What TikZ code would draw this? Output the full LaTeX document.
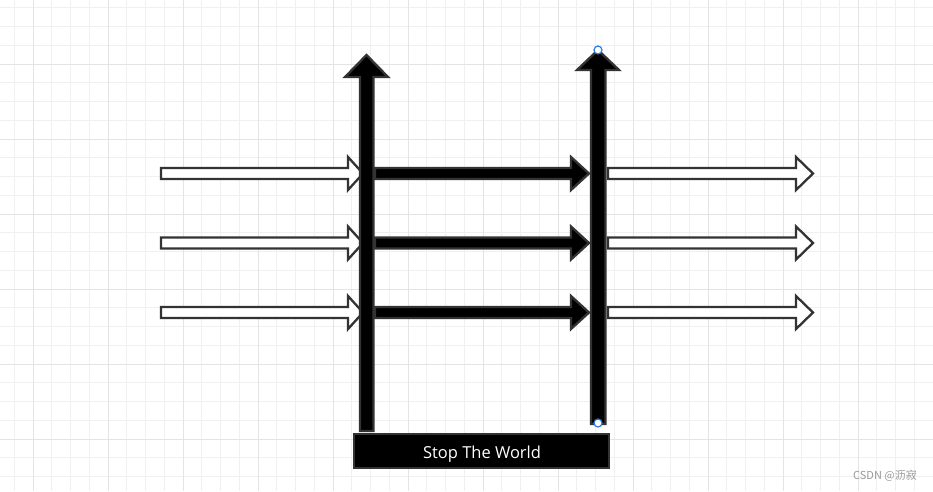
\documentclass[tikz,border=0pt]{standalone}
\usepackage{fontspec}
\newfontfamily\labelfont{Open Sans}
\newfontfamily\cjk{Noto Sans CJK SC}
\definecolor{gridminor}{HTML}{F0F0F0}
\definecolor{gridmajor}{HTML}{E4E4E4}
\definecolor{edge}{HTML}{333333}
\definecolor{handle}{HTML}{2A7AE2}
\definecolor{wm}{HTML}{9A9A9A}
\tikzset{
  minorline/.style={draw=gridminor,line width=1pt},
  majorline/.style={draw=gridmajor,line width=1pt},
  whitearrow/.style={draw=edge,fill=white,line width=2.3pt,line join=miter},
  blackarrow/.style={draw=edge,fill=black,line width=2.3pt,line join=miter},
  handledot/.style={draw=handle,fill=white,line width=1.2pt},
  labelbox/.style={draw=edge,fill=black,line width=2.3pt,minimum width=255pt,minimum height=34pt,inner sep=0pt},
  labeltext/.style={text=white,inner sep=0pt,font=\labelfont\fontsize{16.5}{18}\selectfont},
  watermark/.style={text=wm,font=\cjk\fontsize{11}{13}\selectfont,inner sep=0pt}
}
\begin{document}
\begin{tikzpicture}[x=1pt,y=-1pt]
\useasboundingbox (0,0) rectangle (933,491);
\fill[white] (0,0) rectangle (933,491);
% grid
\foreach \x in {14.25,33,...,933} \draw[minorline] (\x,0) -- (\x,491);
\foreach \y in {7.75,26.5,...,491} \draw[minorline] (0,\y) -- (933,\y);
\foreach \x in {33,108,...,933} \draw[majorline] (\x,0) -- (\x,491);
\foreach \y in {64,139,...,491} \draw[majorline] (0,\y) -- (933,\y);
% horizontal arrows
\foreach \yc in {173.5,243,312.5}{
  \draw[whitearrow] (161,\yc-5.5) -- (348,\yc-5.5) -- (348,\yc-16.5) -- (363,\yc) -- (348,\yc+16.5) -- (348,\yc+5.5) -- (161,\yc+5.5) -- cycle;
  \draw[blackarrow] (375,\yc-5.5) -- (571,\yc-5.5) -- (571,\yc-16.5) -- (589,\yc) -- (571,\yc+16.5) -- (571,\yc+5.5) -- (375,\yc+5.5) -- cycle;
  \draw[whitearrow] (608,\yc-5.5) -- (796,\yc-5.5) -- (796,\yc-16.5) -- (813,\yc) -- (796,\yc+16.5) -- (796,\yc+5.5) -- (608,\yc+5.5) -- cycle;
}
% vertical arrows
\draw[blackarrow] (360,431) -- (360,77) -- (345,77) -- (366.5,55) -- (388,77) -- (373.5,77) -- (373.5,431) -- cycle;
\draw[blackarrow] (591,424) -- (591,70) -- (577,70) -- (598,50) -- (619,70) -- (605.5,70) -- (605.5,424) -- cycle;
\draw[handledot] (598,50) circle (4);
\draw[handledot] (598,423) circle (4);
% label
\node[labelbox] (stw) at (481.5,451) {};
\node[labeltext,anchor=base] (stwt) at (482,458) {Stop The World};
\node[watermark,anchor=east] (wmk) at (917,476) {CSDN @沥寂};
\end{tikzpicture}
\end{document}
